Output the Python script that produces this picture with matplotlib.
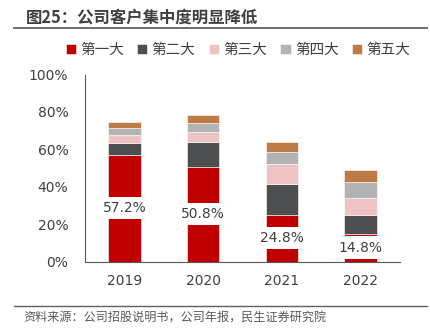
import matplotlib.pyplot as plt
import numpy as np

plt.rcParams['font.family'] = ['Noto Sans CJK SC', 'DejaVu Sans']

# data (share of revenue, %)
years = ['2019', '2020', '2021', '2022']
series_names = ['第一大', '第二大', '第三大', '第四大', '第五大']
first = [57.2, 50.8, 24.8, 14.8]
second = [6.2, 12.9, 16.6, 9.8]
third = [4.3, 5.7, 10.8, 9.1]
fourth = [3.6, 4.8, 6.4, 8.8]
fifth = [3.4, 4.3, 5.4, 6.3]
colors = ['#C00000', '#4E4F51', '#EDC3C3', '#B3B3B3', '#BE7B46']

title = '图25：公司客户集中度明显降低'
source = '资料来源：公司招股说明书，公司年报，民生证券研究院'

W, H = 431, 335
fig = plt.figure(figsize=(W / 100, H / 100), dpi=100)
ax = fig.add_axes([85 / W, (H - 261.5) / H, 315 / W, 187 / H])

x = np.arange(len(years))
bottom = np.zeros(len(years))
for name, vals, c in zip(series_names, [first, second, third, fourth, fifth], colors):
    vals = np.array(vals) / 100
    ax.bar(x, vals, 0.41, bottom=bottom, color=c, label=name,
           edgecolor='white', linewidth=0.4)
    bottom += vals

# labels for the biggest customer, sitting on a white box
for xi, v in zip(x, first):
    ax.text(xi, v / 200, f'{v:.1f}%', ha='center', va='center', fontsize=10,
            color='#404040', family='DejaVu Sans',
            bbox=dict(boxstyle='square,pad=0.3', fc='white', ec='none'))

ax.set_xlim(-0.5, 3.5)
ax.set_ylim(0, 1)
ax.set_yticks(np.arange(0, 1.01, 0.2))
ax.set_yticklabels([f'{int(t * 100)}%' for t in np.arange(0, 1.01, 0.2)])
ax.set_xticks(x)
ax.set_xticklabels(years)
ax.tick_params(length=0, labelsize=10, labelcolor='#404040', pad=12)
for lab in ax.get_xticklabels() + ax.get_yticklabels():
    lab.set_family('DejaVu Sans')
ax.tick_params(axis='x', pad=9)
for s in ['top', 'right']:
    ax.spines[s].set_visible(False)
for s in ['left', 'bottom']:
    ax.spines[s].set_color('#595959')
    ax.spines[s].set_linewidth(0.8)

fig.legend(loc='center', bbox_to_anchor=(238 / W, 1 - 50 / H), ncol=5,
           frameon=False, fontsize=10.5, handlelength=0.7, handleheight=0.7,
           handletextpad=0.3, columnspacing=0.9, labelcolor='#404040')

fig.text(26 / W, 1 - 18 / H, title, fontsize=11.8, fontweight='bold',
         color='#404040', va='center', ha='left')
fig.add_artist(plt.Line2D([14 / W, 427 / W], [1 - 28 / H, 1 - 28 / H],
                          color='#606060', linewidth=1.3))
fig.add_artist(plt.Line2D([14 / W, 427 / W], [1 - 306 / H, 1 - 306 / H],
                          color='#606060', linewidth=1.0))
fig.text(23 / W, 1 - 318 / H, source, fontsize=8.7, color='#595959',
         va='center', ha='left')

fig.savefig('out.png', dpi=100)
